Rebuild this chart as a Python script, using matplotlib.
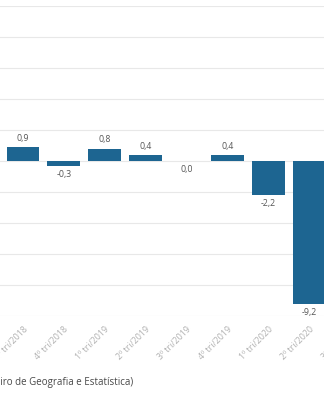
import matplotlib
matplotlib.use("Agg")
import matplotlib.pyplot as plt

categories = ["3º tri/2018", "4º tri/2018", "1º tri/2019", "2º tri/2019",
              "3º tri/2019", "4º tri/2019", "1º tri/2020", "2º tri/2020", "3º tri/2020"]
values = [0.9, -0.3, 0.8, 0.4, 0.0, 0.4, -2.2, -9.2, 7.7]
value_labels = ["0,9", "-0,3", "0,8", "0,4", "0,0", "0,4", "-2,2", "-9,2", "7,7"]
source_text = "Fonte: IBGE (Instituto Brasileiro de Geografia e Estatística)"
source_hidden_prefix = "Fonte: IBGE (Instituto Brasile"

plt.rcParams['font.family'] = ['Open Sans', 'DejaVu Sans']

fig = plt.figure(figsize=(3.24, 4.0), dpi=100)
x_lo, x_hi = -0.56, 8.6
visible_span = 7.92
ax = fig.add_axes([0, 1 - 316 / 400, (x_hi - x_lo) / visible_span, 310 / 400])

x = list(range(len(categories)))
ax.bar(x, values, width=0.8, color="#1d6591", zorder=3)

ax.set_yticks(range(-10, 11, 2))
ax.yaxis.grid(True, color="#e8e8e8", linewidth=0.8, zorder=0)
ax.tick_params(axis="y", left=False, labelleft=False)
for s in ax.spines.values():
    s.set_visible(False)

ax.set_xticks(x)
ax.set_xticklabels(categories, rotation=45, ha="right", va="top",
                   rotation_mode="anchor", fontsize=6.3, color="#b0b0b0")
ax.tick_params(axis="x", length=0, pad=6)
ax.set_ylim(-10, 10)
ax.set_xlim(x_lo, x_hi)

for xi, v, lab in zip(x, values, value_labels):
    if v > 0:
        ax.annotate(lab, (xi, v), xytext=(0, 3), textcoords="offset points",
                    ha="center", va="bottom", fontsize=6.3, color="#555555")
    else:
        ax.annotate(lab, (xi, v), xytext=(0, -3), textcoords="offset points",
                    ha="center", va="top", fontsize=6.3, color="#555555")

# measure the part of the source line that falls left of the visible area
renderer = fig.canvas.get_renderer()
tmp = fig.text(0, 0, source_hidden_prefix, fontsize=7.0)
w = tmp.get_window_extent(renderer=renderer).width
tmp.remove()
fig.text(-w / fig.bbox.width, 1 - 382 / 400, source_text, ha="left", va="center",
         fontsize=7.0, color="#484848")

fig.savefig("out.png", dpi=100)
